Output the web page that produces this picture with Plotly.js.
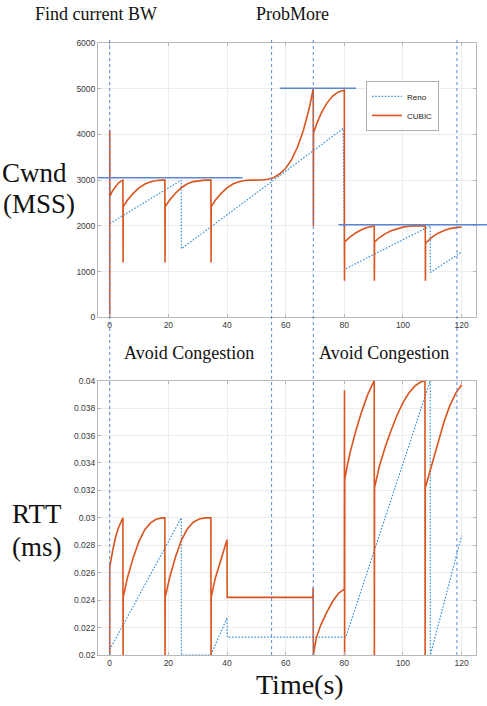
<!DOCTYPE html>
<html><head><meta charset="utf-8">
<script src="https://cdn.plot.ly/plotly-3.0.1.min.js"></script>
<style>html,body{margin:0;padding:0;background:#fff}</style>
</head><body><div id="chart" style="width:487px;height:706px"></div>
<script>
// ---- data ----
const xTicks = [0, 20, 40, 60, 80, 100, 120];
const cwndTicks = [0, 1000, 2000, 3000, 4000, 5000, 6000];
const rttTicks = [0.02, 0.022, 0.024, 0.026, 0.028, 0.03, 0.032, 0.034, 0.036, 0.038, 0.04];
const rttTickText = ['0.02','0.022','0.024','0.026','0.028','0.03','0.032','0.034','0.036','0.038','0.04'];

const renoCwndT = [0, 24.4, 24.45, 79.6, 80.1, 109.3, 109.35, 120];
const renoCwnd  = [2050, 3000, 1500, 4130, 1050, 2000, 980, 1430];

const cubicCwndT = [0, 0, 0.05, 1, 2, 3, 4, 4.5, 4.55, 4.6, 6, 8, 10, 12, 14, 16, 18, 18.8, 18.85, 18.9,
  20.5, 22.5, 24.5, 26.5, 28.5, 30.5, 32.5, 34.5, 34.55, 34.6, 36, 38, 40, 42, 44, 46, 48, 50, 52, 54,
  56, 58, 60, 62, 64, 66, 68, 69.4, 69.45, 69.5, 70.5, 72, 74, 76, 78, 80, 80.05, 80.1, 82, 84,
  86, 88, 90.2, 90.25, 90.3, 92, 94, 96, 98, 100, 102, 104, 107.6, 107.65, 107.7, 110, 112, 114, 116, 118, 120];
const cubicCwnd = [0, 4100, 2650, 2770, 2870, 2940, 2985, 3000, 1200, 2420, 2560, 2710, 2830, 2915, 2965, 2992, 3000, 3000, 1200, 2420,
  2570, 2720, 2840, 2920, 2968, 2992, 3000, 3000, 1200, 2420, 2560, 2710, 2830, 2915, 2965, 2992, 3000, 3000, 3002, 3018,
  3060, 3140, 3260, 3450, 3720, 4080, 4560, 5000, 2000, 4030, 4220, 4450, 4680, 4840, 4930, 4970, 800, 1650, 1760, 1850,
  1920, 1970, 2000, 800, 1650, 1745, 1830, 1895, 1940, 1972, 1990, 2000, 2000, 800, 1620, 1760, 1840, 1900, 1940, 1962, 1975];

const renoRttT = [0, 24.4, 24.45, 34.5, 40, 40.05, 80.5, 109.3, 109.35, 120];
const renoRtt  = [0.0204, 0.03, 0.02, 0.02, 0.0227, 0.0213, 0.0213, 0.04, 0.02, 0.0287];

const cubicRttT = [0, 0, 1, 2, 3, 4, 4.5, 4.55, 4.6, 6, 8, 10, 12, 14, 16, 18, 18.8, 18.85, 18.9, 20.5,
  22.5, 24.5, 26.5, 28.5, 30.5, 32.5, 34.5, 34.55, 34.6, 36, 38, 40, 40.05, 69.3, 69.35, 69.45, 70.5, 72, 74, 76,
  78, 80, 80.05, 80.1, 80.15, 81, 82, 84, 86, 88, 90.2, 90.25, 90.3, 92, 94, 96, 98, 100, 102, 104,
  106, 107.5, 107.55, 107.6, 110, 112, 114, 116, 118, 120];
const cubicRtt = [0.02, 0.0264, 0.0276, 0.0286, 0.0293, 0.0298, 0.03, 0.02, 0.0242, 0.0256, 0.0271, 0.0283, 0.02915, 0.02965, 0.02992, 0.03, 0.03, 0.02, 0.0242, 0.0257,
  0.0272, 0.0284, 0.0292, 0.02968, 0.02992, 0.03, 0.03, 0.02, 0.0242, 0.0256, 0.0271, 0.0284, 0.0242, 0.0242, 0.0249, 0.02, 0.0213, 0.0222, 0.0231, 0.0239,
  0.0245, 0.0248, 0.0393, 0.02, 0.0328, 0.0338, 0.0348, 0.0364, 0.0378, 0.039, 0.04, 0.02, 0.0322, 0.0338, 0.0352, 0.0364, 0.0375, 0.0384, 0.0391, 0.0396,
  0.0399, 0.04, 0.02, 0.0322, 0.034, 0.0356, 0.037, 0.0382, 0.0391, 0.0397];

const phaseLines = [0, 55.2, 69.4, 118.4];          // vertical dashed markers (s)
const bwLevels = [3050, 5010, 2025];                 // horizontal target levels (MSS)
const bwStart = [-4, 58, 78];
const bwEnd = [45.3, 84, null];                      // null = runs past the right edge

// ---- styling ----
const RENO = '#3d93da', CUBIC = '#d9541e', REF = '#5a86d2';
const tickFont = {family: 'Liberation Sans, Arial, sans-serif', size: 8.5, color: '#3a3a3a'};
const axBase = {showline: true, linecolor: '#b8b8b8', linewidth: 1, mirror: 'ticks', ticks: 'inside',
  ticklen: 3, tickcolor: '#b8b8b8', showgrid: true, gridcolor: '#ececec', gridwidth: 1, zeroline: false,
  tickfont: tickFont};
const renoLine = {color: RENO, width: 1.2, dash: '1.6px,1.6px'};
const cubicLine = {color: CUBIC, width: 1.6};

const traces = [
  {x: renoCwndT, y: renoCwnd, xaxis: 'x', yaxis: 'y', name: 'Reno', mode: 'lines', line: renoLine},
  {x: cubicCwndT, y: cubicCwnd, xaxis: 'x', yaxis: 'y', name: 'CUBIC', mode: 'lines', line: cubicLine},
  {x: renoRttT, y: renoRtt, xaxis: 'x2', yaxis: 'y2', name: 'Reno', mode: 'lines', showlegend: false, line: renoLine},
  {x: cubicRttT, y: cubicRtt, xaxis: 'x2', yaxis: 'y2', name: 'CUBIC', mode: 'lines', showlegend: false, line: cubicLine}
];

const shapes = [];
phaseLines.forEach(v => shapes.push({type: 'line', xref: 'x', yref: 'paper', x0: v, x1: v, y0: 0, y1: 1.0098,
  line: {color: REF, width: 1, dash: '3px,3px'}}));
bwLevels.forEach((lv, i) => {
  if (bwEnd[i] === null) {
    shapes.push({type: 'line', xref: 'paper', yref: 'y', x0: (bwStart[i] + 4) / 128.9, x1: 1.03, y0: lv, y1: lv,
      line: {color: REF, width: 1.5}});
  } else {
    shapes.push({type: 'line', xref: 'x', yref: 'y', x0: bwStart[i], x1: bwEnd[i], y0: lv, y1: lv,
      line: {color: REF, width: 1.5}});
  }
});

const serif = 'Liberation Serif, Times New Roman, serif';
function ann(text, x, y, size) {
  return {text: text, xref: 'paper', yref: 'paper', x: x, y: y, xanchor: 'center', yanchor: 'middle',
    showarrow: false, font: {family: serif, size: size, color: '#111'}};
}
const annotations = [
  ann('Find current BW', -0.0053, 1.0466, 18),
  ann('ProbMore', 0.5146, 1.0466, 18),
  ann('Cwnd', -0.1667, 0.7876, 27),
  ann('(MSS)', -0.1574, 0.7369, 27),
  ann('Avoid Congestion', 0.2407, 0.4940, 18),
  ann('Avoid Congestion', 0.7553, 0.4940, 18),
  ann('RTT', -0.1614, 0.2304, 27),
  ann('(ms)', -0.1601, 0.1765, 27),
  ann('Time(s)', 0.5331, -0.049, 28)
];

const layout = {
  width: 487, height: 706,
  margin: {l: 98, r: 11, t: 43, b: 51},
  paper_bgcolor: '#fff', plot_bgcolor: '#fff',
  showlegend: true,
  legend: {x: 0.709, y: 0.938, xanchor: 'left', yanchor: 'top', bgcolor: '#fff', bordercolor: '#b0b0b0',
    borderwidth: 1, font: {family: 'Liberation Sans, Arial, sans-serif', size: 8, color: '#222'},
    itemwidth: 30, tracegroupgap: 0},
  xaxis: Object.assign({}, axBase, {anchor: 'y', domain: [0, 1], range: [-4, 124.9], tickvals: xTicks}),
  yaxis: Object.assign({}, axBase, {anchor: 'x', domain: [0.5518, 1], range: [0, 6000], tickvals: cwndTicks}),
  xaxis2: Object.assign({}, axBase, {anchor: 'y2', domain: [0, 1], range: [-4, 124.9], tickvals: xTicks}),
  yaxis2: Object.assign({}, axBase, {anchor: 'x2', domain: [0, 0.4482], range: [0.02, 0.04], tickvals: rttTicks, ticktext: rttTickText}),
  shapes: shapes,
  annotations: annotations
};

Plotly.newPlot('chart', traces, layout, {displayModeBar: false, staticPlot: true});
</script></body></html>
